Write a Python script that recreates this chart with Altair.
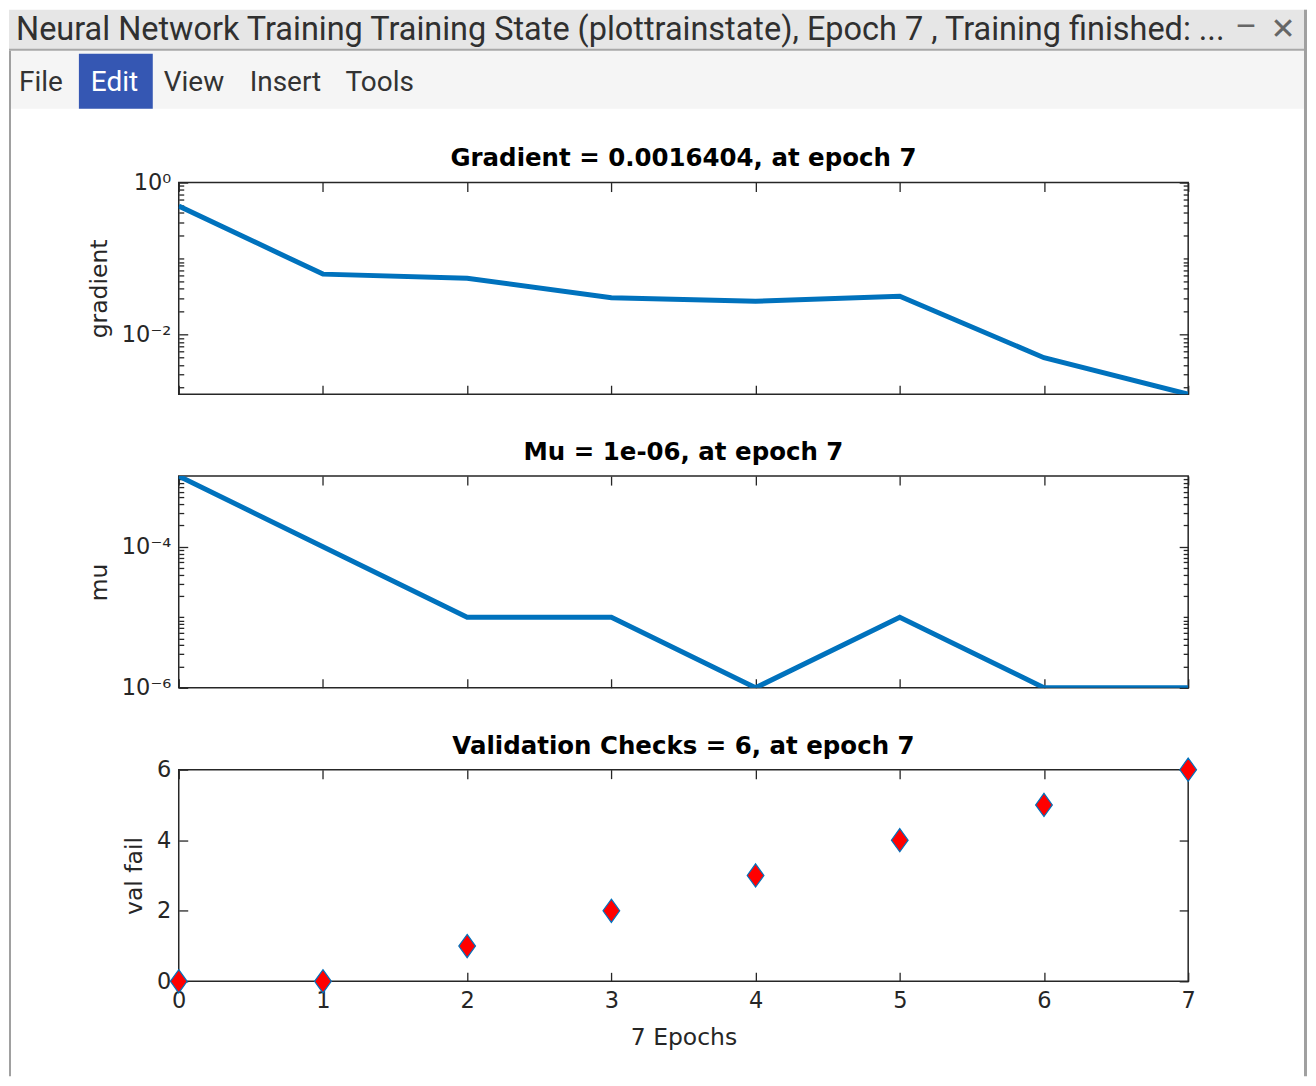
import math
import altair as alt
import pandas as pd

# ---------------- data ----------------
epochs = [0, 1, 2, 3, 4, 5, 6, 7]
gradient = [0.49, 0.0624, 0.0552, 0.0305, 0.0274, 0.0319, 0.00496, 0.0016404]
mu = [1e-3, 1e-4, 1e-5, 1e-5, 1e-6, 1e-5, 1e-6, 1e-6]
val_fail = [0, 0, 1, 2, 3, 4, 5, 6]

gradient_domain = [0.0016404, 1.0]
mu_domain = [1e-6, 1e-3]
val_domain = [0, 6]

gradient_major = [1e-2, 1.0]
mu_major = [1e-6, 1e-4]
val_ticks = [0, 2, 4, 6]

panel_titles = [
    "Gradient = 0.0016404, at epoch 7",
    "Mu = 1e-06, at epoch 7",
    "Validation Checks = 6, at epoch 7",
]
y_titles = ["gradient", "mu", "val fail"]
x_title = "7 Epochs"
window_title = "Neural Network Training Training State (plottrainstate), Epoch 7 , Training finished: ..."
menu_items = ["File", "Edit", "View", "Insert", "Tools"]

# ---------------- styles ----------------
FONT = "DejaVu Sans"
UI_FONT = "Roboto"
AXC = "#262626"
TXT = "#262626"
LINE = "#0072BD"
W, H = 1011, 212
DIAMOND = "M0,-1L0.72,0L0,1L-0.72,0Z"
TITLE_OFFSETS = [-24, -16, -28]


def minor_ticks(lo, hi, majors):
    out = []
    e = math.floor(math.log10(lo))
    while 10 ** e < hi:
        for m in range(1, 10):
            v = m * 10 ** e
            if lo < v < hi and all(abs(v - M) / M > 1e-9 for M in majors):
                out.append(v)
        e += 1
    return out


LOG_LABEL = ("'10' + (round(log(datum.value)/LN10) == 0 ? '\u2070' : "
             "round(log(datum.value)/LN10) == -2 ? '\u207b\u00b2' : "
             "round(log(datum.value)/LN10) == -4 ? '\u207b\u2074' : '\u207b\u2076')")

COMMON = dict(domain=False, grid=False, tickColor=AXC, tickWidth=1.3,
              labelFont=FONT, labelFontSize=22.5, labelColor=TXT,
              titleFont=FONT, titleFontSize=23.5, titleFontWeight="normal",
              titleColor=TXT)


def y_axis(orient, values, size, labels=False, title=None, expr=None):
    kw = dict(COMMON, orient=orient, values=values, tickSize=size, offset=-size,
              labels=labels, title=title)
    if labels:
        kw.update(labelPadding=8, labelOverlap=False)
        if expr:
            kw["labelExpr"] = expr
    if title:
        kw["titlePadding"] = 10
    return alt.Axis(**kw)


def x_axis(orient, labels=False, title=None):
    kw = dict(COMMON, orient=orient, values=epochs, tickSize=9, offset=-9,
              labels=labels, title=title)
    if labels:
        kw.update(labelFlush=False, labelPadding=8, labelOverlap=False)
    if title:
        kw["titlePadding"] = 14
    return alt.Axis(**kw)


def panel(series, domain, log, title, ytitle, majors, minors, title_offset, points=False):
    df = pd.DataFrame({"epoch": epochs, "value": series})
    xs = alt.Scale(domain=[0, 7], nice=False, zero=False)
    if log:
        ys = alt.Scale(type="log", domain=domain, nice=False)
    else:
        ys = alt.Scale(domain=domain, nice=False, zero=False)
    base = alt.Chart(df)
    last = points

    if points:
        main = base.mark_point(shape=DIAMOND, size=540, filled=True, fill="#ff0000",
                               stroke=LINE, strokeWidth=1.2, opacity=1)
    else:
        main = base.mark_line(color=LINE, strokeWidth=5, clip=True)

    expr = LOG_LABEL if log else None
    layers = [
        main.encode(
            x=alt.X("epoch:Q", scale=xs,
                    axis=x_axis("bottom", labels=last, title=x_title if last else None)),
            y=alt.Y("value:Q", scale=ys,
                    axis=y_axis("left", majors, 9, labels=True, title=ytitle, expr=expr)),
        ),
        base.mark_point(opacity=0).encode(
            x=alt.X("epoch:Q", scale=xs, axis=x_axis("top")),
            y=alt.Y("value:Q", scale=ys, axis=y_axis("right", majors, 9)),
        ),
    ]
    if minors:
        layers += [
            base.mark_point(opacity=0).encode(
                x=alt.X("epoch:Q", scale=xs, axis=None),
                y=alt.Y("value:Q", scale=ys, axis=y_axis("left", minors, 5)),
            ),
            base.mark_point(opacity=0).encode(
                x=alt.X("epoch:Q", scale=xs, axis=None),
                y=alt.Y("value:Q", scale=ys, axis=y_axis("right", minors, 5)),
            ),
        ]
    return alt.layer(*layers).properties(
        width=W, height=H,
        title=alt.TitleParams(title, font=FONT, fontSize=24.5, fontWeight="bold",
                              color="#000000", anchor="middle", frame="group",
                              baseline="bottom", offset=title_offset),
    ).resolve_axis(x="independent", y="independent")


# ---------------- window chrome (title bar + menu) ----------------
one = alt.Data(values=[{}])


def rect(x, x2, y, y2, color):
    return alt.Chart(one).mark_rect(color=color).encode(
        x=alt.value(x), x2=alt.value(x2), y=alt.value(y), y2=alt.value(y2))


def text(label, x, y, color="#333333", font=UI_FONT, size=28, align="left"):
    return alt.Chart(one).mark_text(text=label, font=font, fontSize=size, color=color,
                                    align=align, baseline="middle").encode(
        x=alt.value(x), y=alt.value(y))


menu_x = [-160, -88, -15, 71, 167]
chrome_layers = [
    rect(-170, 1130, -71, -31, "#e6e6e6"),
    rect(-170, 1130, -31, 28, "#f5f5f5"),
    rect(-170, 1130, -32, -30, "#a8a8a8"),
    rect(-100, -26, -27, 28, "#3557b3"),
    text(window_title, -163, -51, color="#303030", size=32.5),
    text("\u2013", 1069, -53, color="#666666", size=34, align="center"),
    text("\u2715", 1106, -51, color="#666666", font=FONT, size=30, align="center"),
    rect(-170, -168, -30, 997, "#a0a0a0"),
    rect(1127, 1130, -71, 997, "#a0a0a0"),
]
for label, mx in zip(menu_items, menu_x):
    chrome_layers.append(text(label, mx, 2, color="#ffffff" if label == "Edit" else "#333333"))

chrome = alt.layer(*chrome_layers).properties(
    width=W, height=20, view=alt.ViewBackground(stroke="transparent"))

# ---------------- panels ----------------
p1 = panel(gradient, gradient_domain, True, panel_titles[0], y_titles[0],
           gradient_major, minor_ticks(*gradient_domain, gradient_major), TITLE_OFFSETS[0])
p2 = panel(mu, mu_domain, True, panel_titles[1], y_titles[1],
           mu_major, minor_ticks(*mu_domain, mu_major), TITLE_OFFSETS[1])
p3 = panel(val_fail, val_domain, False, panel_titles[2], y_titles[2],
           val_ticks, None, TITLE_OFFSETS[2], points=True)

chart = alt.vconcat(chrome, p1, p2, p3, spacing=82, bounds="flush", padding=0).configure(
    background="white"
).configure_view(stroke=AXC, strokeWidth=1.5)

chart.save("out.html", embed_options={"renderer": "svg", "actions": False})
